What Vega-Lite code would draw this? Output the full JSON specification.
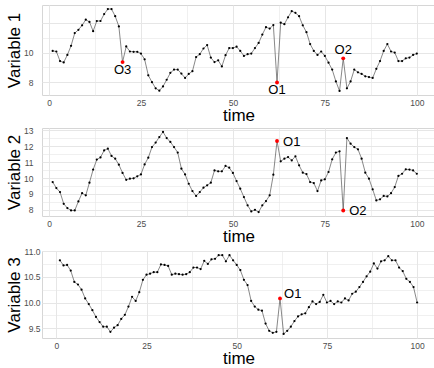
{
 "$schema": "https://vega.github.io/schema/vega-lite/v6.json",
 "padding": {"left": 4, "top": 4, "right": 0, "bottom": 0},
 "background": "white",
 "config": {
  "font": "Liberation Sans",
  "view": {"stroke": "#d6d6d6", "strokeWidth": 1},
  "axis": {"ticks": false, "domain": false, "labelColor": "#4d4d4d", "labelFontSize": 8.5, "titleFontSize": 17, "titleFontWeight": "normal", "titleColor": "#000000", "gridColor": "#e6e6e6"},
  "axisX": {"labelPadding": 3, "titlePadding": 1},
  "axisY": {"labelPadding": 2, "titlePadding": 0}
 },
 "datasets": {
  "v1": [
   {"t":1,"v":10.11},{"t":2,"v":10.07},{"t":3,"v":9.43},{"t":4,"v":9.34},{"t":5,"v":9.84},{"t":6,"v":10.45},{"t":7,"v":11.30},{"t":8,"v":11.52},{"t":9,"v":11.82},{"t":10,"v":12.20},
   {"t":11,"v":12.05},{"t":12,"v":11.43},{"t":13,"v":12.11},{"t":14,"v":12.11},{"t":15,"v":12.57},{"t":16,"v":12.91},{"t":17,"v":12.91},{"t":18,"v":12.43},{"t":19,"v":11.75},{"t":20,"v":9.36,"o":"O3"},
   {"t":21,"v":10.41},{"t":22,"v":10.07},{"t":23,"v":10.05},{"t":24,"v":10.05},{"t":25,"v":9.93},{"t":26,"v":9.55},{"t":27,"v":8.48},{"t":28,"v":8.02},{"t":29,"v":7.61},{"t":30,"v":7.45},
   {"t":31,"v":7.73},{"t":32,"v":8.18},{"t":33,"v":8.64},{"t":34,"v":8.86},{"t":35,"v":8.86},{"t":36,"v":8.59},{"t":37,"v":8.30},{"t":38,"v":8.57},{"t":39,"v":8.75},{"t":40,"v":9.70},
   {"t":41,"v":9.89},{"t":42,"v":10.27},{"t":43,"v":10.50},{"t":44,"v":9.66},{"t":45,"v":9.36},{"t":46,"v":9.48},{"t":47,"v":9.07},{"t":48,"v":9.82},{"t":49,"v":10.30},{"t":50,"v":10.30},
   {"t":51,"v":10.39},{"t":52,"v":10.11},{"t":53,"v":9.77},{"t":54,"v":9.89},{"t":55,"v":9.93},{"t":56,"v":10.30},{"t":57,"v":10.64},{"t":58,"v":11.20},{"t":59,"v":11.70},{"t":60,"v":11.60},
   {"t":61,"v":11.84},{"t":62,"v":8.00,"o":"O1"},{"t":63,"v":12.00},{"t":64,"v":11.90},{"t":65,"v":12.36},{"t":66,"v":12.77},{"t":67,"v":12.66},{"t":68,"v":12.43},{"t":69,"v":11.82},{"t":70,"v":11.36},
   {"t":71,"v":10.57},{"t":72,"v":10.11},{"t":73,"v":9.84},{"t":74,"v":10.07},{"t":75,"v":9.77},{"t":76,"v":9.32},{"t":77,"v":8.86},{"t":78,"v":8.07},{"t":79,"v":7.43},{"t":80,"v":9.61,"o":"O2"},
   {"t":81,"v":7.61},{"t":82,"v":8.07},{"t":83,"v":8.86},{"t":84,"v":8.68},{"t":85,"v":8.57},{"t":86,"v":8.41},{"t":87,"v":8.36},{"t":88,"v":8.30},{"t":89,"v":8.91},{"t":90,"v":9.43},
   {"t":91,"v":10.11},{"t":92,"v":10.57},{"t":93,"v":10.07},{"t":94,"v":10.00},{"t":95,"v":9.43},{"t":96,"v":9.43},{"t":97,"v":9.61},{"t":98,"v":9.66},{"t":99,"v":9.84},{"t":100,"v":9.93}
  ],
  "v2": [
   {"t":1,"v":9.75},{"t":2,"v":9.37},{"t":3,"v":9.12},{"t":4,"v":8.38},{"t":5,"v":8.11},{"t":6,"v":7.96},{"t":7,"v":7.96},{"t":8,"v":8.53},{"t":9,"v":9.05},{"t":10,"v":8.91},
   {"t":11,"v":9.71},{"t":12,"v":10.53},{"t":13,"v":11.16},{"t":14,"v":11.30},{"t":15,"v":11.74},{"t":16,"v":11.85},{"t":17,"v":11.39},{"t":18,"v":11.22},{"t":19,"v":10.84},{"t":20,"v":10.32},
   {"t":21,"v":9.89},{"t":22,"v":9.96},{"t":23,"v":9.98},{"t":24,"v":10.11},{"t":25,"v":10.23},{"t":26,"v":10.86},{"t":27,"v":11.28},{"t":28,"v":11.95},{"t":29,"v":12.23},{"t":30,"v":12.58},
   {"t":31,"v":12.90},{"t":32,"v":12.52},{"t":33,"v":12.27},{"t":34,"v":11.95},{"t":35,"v":11.60},{"t":36,"v":10.59},{"t":37,"v":10.23},{"t":38,"v":9.64},{"t":39,"v":9.18},{"t":40,"v":8.87},
   {"t":41,"v":9.12},{"t":42,"v":9.39},{"t":43,"v":9.54},{"t":44,"v":9.71},{"t":45,"v":10.48},{"t":46,"v":10.42},{"t":47,"v":10.42},{"t":48,"v":10.76},{"t":49,"v":10.65},{"t":50,"v":10.32},
   {"t":51,"v":9.81},{"t":52,"v":9.33},{"t":53,"v":8.80},{"t":54,"v":8.28},{"t":55,"v":7.90},{"t":56,"v":8.00},{"t":57,"v":7.86},{"t":58,"v":8.28},{"t":59,"v":8.55},{"t":60,"v":8.91},
   {"t":61,"v":10.21},{"t":62,"v":12.33,"o":"O1"},{"t":63,"v":11.05},{"t":64,"v":11.22},{"t":65,"v":11.32},{"t":66,"v":11.11},{"t":67,"v":11.37},{"t":68,"v":10.80},{"t":69,"v":10.34},{"t":70,"v":10.25},
   {"t":71,"v":9.75},{"t":72,"v":9.68},{"t":73,"v":9.18},{"t":74,"v":9.85},{"t":75,"v":9.92},{"t":76,"v":10.38},{"t":77,"v":11.18},{"t":78,"v":11.60},{"t":79,"v":11.68},{"t":80,"v":7.96,"o":"O2"},
   {"t":81,"v":12.52},{"t":82,"v":12.16},{"t":83,"v":11.95},{"t":84,"v":11.81},{"t":85,"v":11.22},{"t":86,"v":10.34},{"t":87,"v":9.96},{"t":88,"v":9.29},{"t":89,"v":8.59},{"t":90,"v":8.66},
   {"t":91,"v":8.87},{"t":92,"v":8.84},{"t":93,"v":9.05},{"t":94,"v":9.43},{"t":95,"v":10.13},{"t":96,"v":10.27},{"t":97,"v":10.55},{"t":98,"v":10.53},{"t":99,"v":10.48},{"t":100,"v":10.27}
  ],
  "v3": [
   {"t":1,"v":10.82},{"t":2,"v":10.72},{"t":3,"v":10.73},{"t":4,"v":10.62},{"t":5,"v":10.40},{"t":6,"v":10.35},{"t":7,"v":10.25},{"t":8,"v":10.08},{"t":9,"v":9.97},{"t":10,"v":9.85},
   {"t":11,"v":9.72},{"t":12,"v":9.62},{"t":13,"v":9.53},{"t":14,"v":9.53},{"t":15,"v":9.43},{"t":16,"v":9.51},{"t":17,"v":9.56},{"t":18,"v":9.68},{"t":19,"v":9.76},{"t":20,"v":9.92},
   {"t":21,"v":10.11},{"t":22,"v":10.03},{"t":23,"v":10.20},{"t":24,"v":10.44},{"t":25,"v":10.54},{"t":26,"v":10.56},{"t":27,"v":10.59},{"t":28,"v":10.59},{"t":29,"v":10.74},{"t":30,"v":10.73},
   {"t":31,"v":10.71},{"t":32,"v":10.54},{"t":33,"v":10.56},{"t":34,"v":10.55},{"t":35,"v":10.54},{"t":36,"v":10.55},{"t":37,"v":10.59},{"t":38,"v":10.68},{"t":39,"v":10.68},{"t":40,"v":10.65},
   {"t":41,"v":10.81},{"t":42,"v":10.75},{"t":43,"v":10.84},{"t":44,"v":10.85},{"t":45,"v":10.92},{"t":46,"v":10.92},{"t":47,"v":10.80},{"t":48,"v":10.92},{"t":49,"v":10.82},{"t":50,"v":10.73},
   {"t":51,"v":10.63},{"t":52,"v":10.44},{"t":53,"v":10.34},{"t":54,"v":10.03},{"t":55,"v":9.92},{"t":56,"v":9.86},{"t":57,"v":9.84},{"t":58,"v":9.59},{"t":59,"v":9.45},{"t":60,"v":9.41},
   {"t":61,"v":9.43},{"t":62,"v":10.08,"o":"O1"},{"t":63,"v":9.39},{"t":64,"v":9.45},{"t":65,"v":9.53},{"t":66,"v":9.64},{"t":67,"v":9.73},{"t":68,"v":9.77},{"t":69,"v":9.79},{"t":70,"v":9.91},
   {"t":71,"v":10.02},{"t":72,"v":9.97},{"t":73,"v":10.01},{"t":74,"v":10.15},{"t":75,"v":10.00},{"t":76,"v":10.03},{"t":77,"v":9.97},{"t":78,"v":10.02},{"t":79,"v":10.00},{"t":80,"v":10.08},
   {"t":81,"v":10.04},{"t":82,"v":10.17},{"t":83,"v":10.21},{"t":84,"v":10.30},{"t":85,"v":10.40},{"t":86,"v":10.51},{"t":87,"v":10.60},{"t":88,"v":10.76},{"t":89,"v":10.66},{"t":90,"v":10.80},
   {"t":91,"v":10.82},{"t":92,"v":10.90},{"t":93,"v":10.82},{"t":94,"v":10.82},{"t":95,"v":10.68},{"t":96,"v":10.61},{"t":97,"v":10.46},{"t":98,"v":10.40},{"t":99,"v":10.30},{"t":100,"v":10.00}
  ]
 },
 "spacing": 1,
 "vconcat": [
  {
   "width": 393, "height": 90,
   "data": {"name": "v1"},
   "encoding": {
    "x": {"field": "t", "type": "quantitative", "scale": {"domain": [-1.9, 104.95], "nice": false, "zero": false},
      "axis": {"title": "time", "values": [0,12.5,25,37.5,50,62.5,75,87.5,100], "labelExpr": "datum.value % 25 === 0 ? format(datum.value, 'd') : ''", "gridWidth": {"condition": {"test": "datum.value % 25 === 0", "value": 1}, "value": 0.6}}},
    "y": {"field": "v", "type": "quantitative", "scale": {"domain": [7.16, 13.18], "nice": false, "zero": false},
      "axis": {"title": "Variable 1", "offset": 7, "values": [8,9,10,11,12], "labelExpr": "datum.value === 8 || datum.value === 10 ? format(datum.value, 'd') : ''", "gridWidth": {"condition": {"test": "datum.value % 2 === 0", "value": 1}, "value": 0.6}}}
   },
   "layer": [
    {"mark": {"type": "line", "color": "#555555", "strokeWidth": 0.7}},
    {"mark": {"type": "point", "filled": true, "color": "#000000", "size": 5, "opacity": 1}},
    {"transform": [{"filter": "isValid(datum.o)"}], "mark": {"type": "point", "filled": true, "color": "#ff0000", "size": 15, "opacity": 1}},
    {"transform": [{"filter": "datum.o === 'O3' || datum.o === 'O1'"}], "mark": {"type": "text", "fontSize": 13, "dy": 8, "baseline": "middle", "align": "center", "color": "#000000"}, "encoding": {"text": {"field": "o"}}},
    {"transform": [{"filter": "datum.o === 'O2'"}], "mark": {"type": "text", "fontSize": 13, "dy": -8, "baseline": "middle", "align": "center", "color": "#000000"}, "encoding": {"text": {"field": "o"}}}
   ]
  },
  {
   "width": 393, "height": 88,
   "data": {"name": "v2"},
   "encoding": {
    "x": {"field": "t", "type": "quantitative", "scale": {"domain": [-1.9, 104.95], "nice": false, "zero": false},
      "axis": {"title": "time", "values": [0,12.5,25,37.5,50,62.5,75,87.5,100], "labelExpr": "datum.value % 25 === 0 ? format(datum.value, 'd') : ''", "gridWidth": {"condition": {"test": "datum.value % 25 === 0", "value": 1}, "value": 0.6}}},
    "y": {"field": "v", "type": "quantitative", "scale": {"domain": [7.61, 13.15], "nice": false, "zero": false},
      "axis": {"title": "Variable 2", "offset": 7, "values": [8,8.5,9,9.5,10,10.5,11,11.5,12,12.5,13], "labelExpr": "datum.value % 1 === 0 ? format(datum.value, 'd') : ''", "gridWidth": {"condition": {"test": "datum.value % 1 === 0", "value": 1}, "value": 0.6}}}
   },
   "layer": [
    {"mark": {"type": "line", "color": "#555555", "strokeWidth": 0.7}},
    {"mark": {"type": "point", "filled": true, "color": "#000000", "size": 5, "opacity": 1}},
    {"transform": [{"filter": "isValid(datum.o)"}], "mark": {"type": "point", "filled": true, "color": "#ff0000", "size": 15, "opacity": 1}},
    {"transform": [{"filter": "isValid(datum.o)"}], "mark": {"type": "text", "fontSize": 13, "dx": 6, "dy": 1, "baseline": "middle", "align": "left", "color": "#000000"}, "encoding": {"text": {"field": "o"}}}
   ]
  },
  {
   "width": 393, "height": 87,
   "data": {"name": "v3"},
   "encoding": {
    "x": {"field": "t", "type": "quantitative", "scale": {"domain": [-3.96, 104.95], "nice": false, "zero": false},
      "axis": {"title": "time", "values": [0,12.5,25,37.5,50,62.5,75,87.5,100], "labelExpr": "datum.value % 25 === 0 ? format(datum.value, 'd') : ''", "gridWidth": {"condition": {"test": "datum.value % 25 === 0", "value": 1}, "value": 0.6}}},
    "y": {"field": "v", "type": "quantitative", "scale": {"domain": [9.31, 11.001], "nice": false, "zero": false},
      "axis": {"title": "Variable 3", "values": [9.5,9.75,10,10.25,10.5,10.75,11], "labelExpr": "datum.value % 0.5 === 0 ? format(datum.value, '.1f') : ''", "gridWidth": {"condition": {"test": "datum.value % 0.5 === 0", "value": 1}, "value": 0.6}}}
   },
   "layer": [
    {"mark": {"type": "line", "color": "#555555", "strokeWidth": 0.7}},
    {"mark": {"type": "point", "filled": true, "color": "#000000", "size": 5, "opacity": 1}},
    {"transform": [{"filter": "isValid(datum.o)"}], "mark": {"type": "point", "filled": true, "color": "#ff0000", "size": 15, "opacity": 1}},
    {"transform": [{"filter": "isValid(datum.o)"}], "mark": {"type": "text", "fontSize": 13, "dx": 4, "dy": -4, "baseline": "middle", "align": "left", "color": "#000000"}, "encoding": {"text": {"field": "o"}}}
   ]
  }
 ]
}
